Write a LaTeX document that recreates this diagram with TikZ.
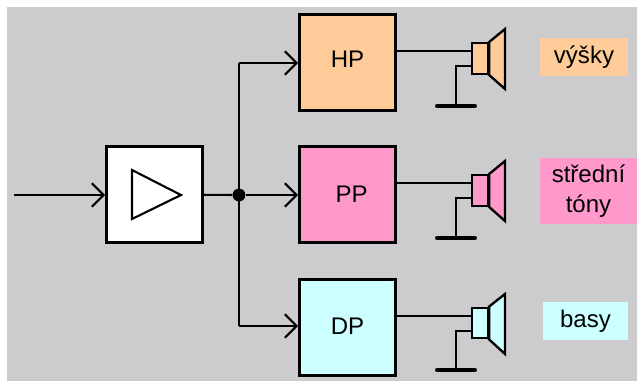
\documentclass[tikz,border=0pt]{standalone}
\usepackage{fontspec}
\setmainfont{Liberation Sans}
\usetikzlibrary{arrows.meta}
\definecolor{bggray}{RGB}{204,204,206}
\definecolor{hpfill}{RGB}{255,204,153}
\definecolor{ppfill}{RGB}{255,153,204}
\definecolor{dpfill}{RGB}{204,255,255}
\tikzset{
  block/.style={draw, line width=2.2pt, minimum size=82pt, inner sep=0pt, font=\fontsize{20.5}{24}\selectfont},
  coil/.style={draw, line width=2pt, minimum width=13.5pt, minimum height=26pt, inner sep=0pt},
  band/.style={inner sep=0pt, font=\fontsize{20.5}{26}\selectfont, align=center},
  wire/.style={line width=1.8pt},
  signal/.style={line width=1.8pt, -{Straight Barb[length=10pt,width=20pt,line width=1.8pt]}},
  earth/.style={line width=3.4pt, line cap=round},
}
\begin{document}
\begin{tikzpicture}[x=0.853pt, y=-0.853pt]
  \useasboundingbox (0,0) rectangle (637,381);
  \fill[white] (0,0) rectangle (637,381);
  \fill[bggray] (7,7) rectangle (637,381);

  \draw
    (14,195) coordinate (in)
    (154.5,194.5) node[block, fill=white] (amp){}
    (347.5,62.5) node[block, fill=hpfill] (hp){\raisebox{6pt}{HP}}
    (347.5,194.5) node[block, fill=ppfill] (pp){\hspace*{7pt}PP}
    (347.5,327.5) node[block, fill=dpfill] (dp){\raisebox{2pt}{DP}}
    (239,195) node[circle, fill=black, inner sep=0pt, minimum size=11pt] (split){}
    (239,63) coordinate (up)
    (239,326) coordinate (down);

  % amplifier symbol
  \draw[line width=1.8pt, line join=miter] (132,170) -- (181,195) -- (132,219) -- cycle;

  \begin{scope}[wire]
    \draw (amp) -- (split);
    \draw (up) -- (down);
  \end{scope}
  \begin{scope}[signal]
    \draw (in) -- (amp.west |- in);
    \draw (split) -- (pp.west |- split);
    \draw (up) -- (hp.west |- up);
    \draw (down) -- (dp.west |- down);
  \end{scope}

  % speakers
  \draw
    (480,58.5) node[coil, fill=hpfill] (coilhp){}
    (480,190.5) node[coil, fill=ppfill] (coilpp){}
    (480,323) node[coil, fill=dpfill] (coildp){}
    (456,106) node[minimum width=32pt, inner sep=0pt] (gndhp){}
    (456,238) node[minimum width=32pt, inner sep=0pt] (gndpp){}
    (456,370) node[minimum width=32pt, inner sep=0pt] (gnddp){};
  \draw[line width=2pt, line join=miter, fill=hpfill] (coilhp.north east) -- (505,29) -- (505,89) -- (coilhp.south east) -- cycle;
  \draw[line width=2pt, line join=miter, fill=ppfill] (coilpp.north east) -- (505,161) -- (505,221) -- (coilpp.south east) -- cycle;
  \draw[line width=2pt, line join=miter, fill=dpfill] (coildp.north east) -- (505,294) -- (505,354) -- (coildp.south east) -- cycle;

  \begin{scope}[wire]
    \draw (hp.east |- 0,51) -- (coilhp.west |- 0,51);
    \draw (pp.east |- 0,183) -- (coilpp.west |- 0,183);
    \draw (dp.east |- 0,316) -- (coildp.west |- 0,316);
    \draw (coilhp.west |- 0,66) -| (gndhp.center);
    \draw (coilpp.west |- 0,198) -| (gndpp.center);
    \draw (coildp.west |- 0,331) -| (gnddp.center);
  \end{scope}
  \begin{scope}[earth]
    \draw (gndhp.west) -- (gndhp.east);
    \draw (gndpp.west) -- (gndpp.east);
    \draw (gnddp.west) -- (gnddp.east);
  \end{scope}

  % labels
  \draw
    (584,57) node[band, fill=hpfill, minimum width=75pt, minimum height=32.5pt] (vysky){výšky}
    (588.5,191) node[band, fill=ppfill, minimum width=82.7pt, minimum height=56.3pt] (stredni){střední\\tóny}
    (585.5,321) node[band, fill=dpfill, minimum width=72.5pt, minimum height=32.5pt] (basy){basy};
\end{tikzpicture}
\end{document}
